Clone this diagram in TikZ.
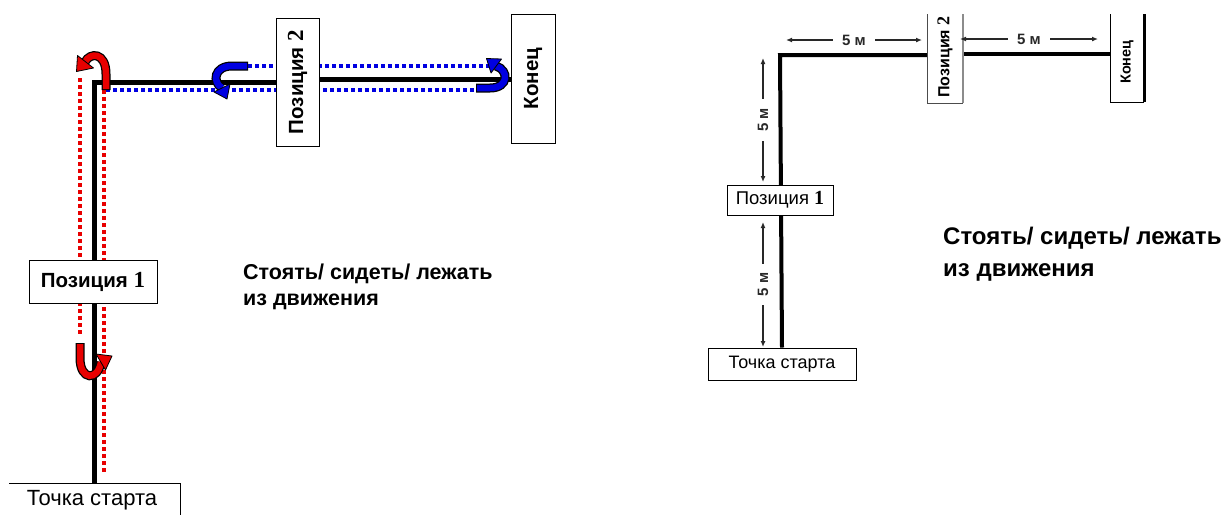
\documentclass[tikz,border=0pt]{standalone}
\usepackage{fontspec}
\setmainfont{Liberation Sans}
\newfontfamily\serifd{Liberation Serif}
\usetikzlibrary{arrows.meta,backgrounds}
\definecolor{rd}{RGB}{232,0,0}
\definecolor{bl}{RGB}{0,0,225}
\definecolor{dimgray}{RGB}{40,40,40}
\newcommand{\myfs}[1]{\fontsize{#1}{#1}\selectfont}
\begin{document}
\begin{tikzpicture}[x=1pt,y=-1pt,
 box/.style={draw=black, fill=white, line width=1pt, inner sep=0pt, align=center},
 rbox/.style={box, rotate=90},
 blkline/.style={line width=5pt, black},
 thinblk/.style={line width=4pt, black},
 reddots/.style={rd, line width=3.5pt, dash pattern=on 3.5pt off 3.5pt},
 bluedots/.style={bl, line width=3.5pt, dash pattern=on 3.5pt off 3.5pt},
 outl/.style={black, line width=9pt},
 redbody/.style={rd, line width=6.5pt},
 bluebody/.style={bl, line width=6.5pt},
 redhead/.style={fill=rd, draw=black, line width=0.8pt, line join=round},
 bluehead/.style={fill=bl, draw=black, line width=0.8pt, line join=round},
 dimline/.style={dimgray, line width=1.2pt, {Latex[length=6pt,width=5pt]}-{Latex[length=6pt,width=5pt]}},
 dimlabel/.style={fill=white, inner xsep=9pt, inner ysep=1pt, text=dimgray, font=\myfs{15}\bfseries}
]
\useasboundingbox (0,0) rectangle (1227,515);

% ---------------- left diagram ----------------
\node[box, minimum width=128pt, minimum height=43pt] (Lp1) at (93,281.5)
  {\myfs{20.5}\bfseries Позиция {\serifd\myfs{23}\bfseries 1}};
\node[rbox, minimum width=128pt, minimum height=43pt] (Lp2) at (297.5,82)
  {\myfs{20.5}\bfseries Позиция {\serifd\myfs{23}\bfseries 2}};
\node[rbox, minimum width=129pt, minimum height=44pt] (Lend) at (533,78.5)
  {\myfs{20.5}\bfseries Конец};
\node[inner sep=0pt, font=\myfs{22}] (Lstart) at (92,500) {Точка старта};
\draw[line width=1pt] (9,483) -- (180,483) -- (180,515);
\coordinate (Lc) at (94,82);
\coordinate (Lbot) at (94,483);

\begin{pgfonlayer}{background}
\draw[reddots] (80,78) -- (80,337);
\draw[reddots] (104,90) -- (104,473);
\draw[bluedots] (248,66) -- (490,66);
\draw[bluedots] (106,90) -- (479,90);
\draw[blkline] (Lbot) -- (Lc) -- (Lp2.north);
\draw[blkline] (Lp2.south |- 0,79) -- (Lend.north |- 0,79);
\end{pgfonlayer}

% red U-turn at top
\draw[outl] (106,90) -- (106,74) .. controls (106,52) and (90,52) .. (85,62);
\draw[redbody] (106,89) -- (106,74) .. controls (106,52) and (90,52) .. (85,62);
\filldraw[redhead] (93.5,68) -- (76.5,71.5) -- (77.5,55.5) -- cycle;
% red U-turn at bottom
\draw[outl] (80,343) -- (80,358) .. controls (80,381) and (98,381) .. (101,362);
\draw[redbody] (80,344) -- (80,358) .. controls (80,381) and (98,381) .. (101,362);
\filldraw[redhead] (105.5,370) -- (112,356) -- (96,354) -- cycle;
% blue U-turn at left
\draw[outl] (248,66) -- (232,66) .. controls (214,66) and (212,82) .. (222,88);
\draw[bluebody] (247,66) -- (232,66) .. controls (214,66) and (212,82) .. (222,88);
\filldraw[bluehead] (230,84) -- (227,99) -- (214,92) -- cycle;
% blue U-turn at right
\draw[outl] (476,88) -- (490,88) .. controls (509,88) and (509,70) .. (496,66);
\draw[bluebody] (477,88) -- (490,88) .. controls (509,88) and (509,70) .. (496,66);
\filldraw[bluehead] (501.5,59) -- (486.5,58.5) -- (491,73) -- cycle;

\node[anchor=west, align=left, inner sep=0pt, font=\fontsize{21.5}{26}\selectfont\bfseries] (Ltxt) at (243,287)
  {Стоять/ сидеть/ лежать\\из движения};

% ---------------- right diagram ----------------
\node[box, minimum width=106pt, minimum height=30pt] (Rp1) at (780,200)
  {\myfs{18.5}Позиция {\serifd\myfs{20}\bfseries 1}};
\node[box, minimum width=148pt, minimum height=32pt] (Rstart) at (782,364)
  {\myfs{18}Точка старта};
\node[fill=white, inner sep=0pt, rotate=90, minimum width=89pt, minimum height=36pt] (Rp2) at (945,57)
  {\myfs{16}\bfseries Позиция {\serifd\myfs{18}\bfseries 2}};
\node[fill=white, inner sep=0pt, rotate=90, minimum width=88pt, minimum height=34pt] (Rend) at (1127,62)
  {\myfs{14.5}\bfseries Конец};
\draw[line width=1pt, black!70] (927,14) -- (927,103) -- (963,103);
\draw[line width=2pt, black!45] (963,14) -- (963,103);
\draw[line width=1pt] (1110,14) -- (1110,102) -- (1144,102);
\draw[line width=3pt] (1144,14) -- (1144,102);
\coordinate (Rc) at (780,55);

\begin{pgfonlayer}{background}
\draw[thinblk] (Rstart.north) -- (Rc) -- (Rp2.north |- Rc);
\draw[thinblk] (Rp2.south |- 0,54) -- (Rend.north |- 0,54);
\end{pgfonlayer}

\coordinate (d1a) at (786,40);
\coordinate (d1b) at (922,40);
\coordinate (d2a) at (960,39);
\coordinate (d2b) at (1098,39);
\coordinate (d3a) at (763,58);
\coordinate (d3b) at (763,182);
\coordinate (d4a) at (763,222);
\coordinate (d4b) at (763,347);
\draw[dimline] (d1a) -- node[dimlabel] (l1) {5 м} (d1b);
\draw[dimline] (d2a) -- node[dimlabel] (l2) {5 м} (d2b);
\draw[dimline] (d3a) -- node[dimlabel, rotate=90] (l3) {5 м} (d3b);
\draw[dimline] (d4a) -- node[dimlabel, rotate=90] (l4) {5 м} (d4b);

\node[anchor=west, align=left, inner sep=0pt, font=\fontsize{24}{32}\selectfont\bfseries] (Rtxt) at (943,254)
  {Стоять/ сидеть/ лежать\\из движения};
\end{tikzpicture}
\end{document}
